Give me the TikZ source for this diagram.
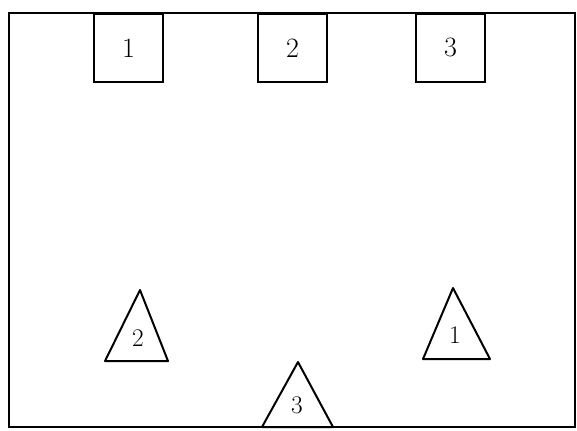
\documentclass[tikz,border=0pt]{standalone}
\usepackage{fontspec}
\begin{document}
\begin{tikzpicture}[x=0.75pt,y=-0.75pt,
  frame/.style={draw=black,line width=1.3pt},
  sq/.style={draw=black,line width=1.3pt,minimum width=52pt,minimum height=51pt,inner sep=0pt,anchor=north west,font=\fontsize{21}{24}\selectfont},
  tri/.style={draw=black,line width=1.5pt,line join=round},
  trilabel/.style={inner sep=0pt,font=\fontsize{19}{22}\selectfont}]
\useasboundingbox (0,0) rectangle (577,430);
\draw[frame] (9,13) rectangle (575,427);
\node[sq] (s1) at (93,13) {1};
\node[sq] (s2) at (257,13) {2};
\node[sq] (s3) at (415,13) {3};
% triangles
\coordinate (a1) at (140,290); \coordinate (b1) at (105,361); \coordinate (c1) at (168,361);
\draw[tri] (a1) -- (b1) -- (c1) -- cycle;
\node[trilabel] (t1) at (138,338) {2};
\coordinate (a2) at (298,362); \coordinate (b2) at (262,427); \coordinate (c2) at (333,427);
\draw[tri] (a2) -- (b2) -- (c2) -- cycle;
\node[trilabel] (t2) at (297,405) {3};
\coordinate (a3) at (453,288); \coordinate (b3) at (423,359); \coordinate (c3) at (490,359);
\draw[tri] (a3) -- (b3) -- (c3) -- cycle;
\node[trilabel] (t3) at (455,335) {1};
\end{tikzpicture}
\end{document}
